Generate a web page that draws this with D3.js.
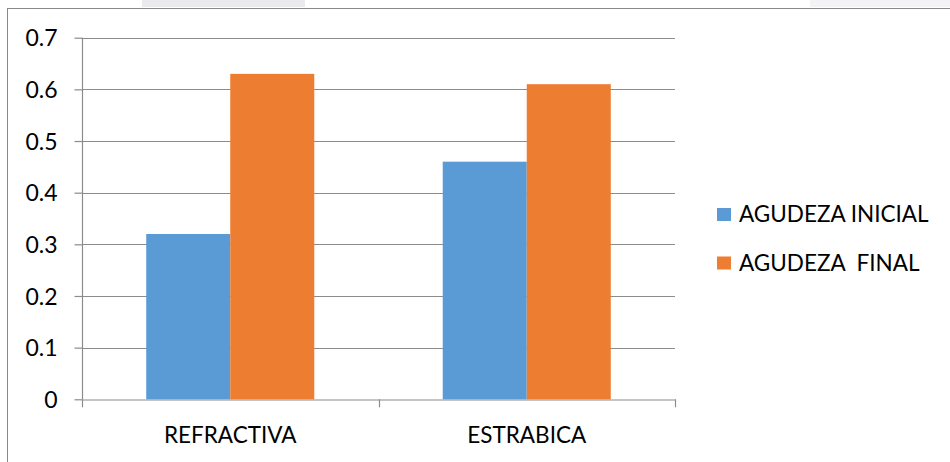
<!DOCTYPE html>
<html>
<head>
<meta charset="utf-8">
<script src="https://cdn.jsdelivr.net/npm/d3@7"></script>
<style>
  html, body { margin: 0; padding: 0; background: #fff; }
  svg { display: block; }
  text { font-family: Lato, "Open Sans", sans-serif; fill: #000; }
</style>
</head>
<body>
<svg id="chart" width="950" height="462"></svg>
<script>
// Visual acuity before and after treatment, by type of amblyopia
const categories = ["REFRACTIVA", "ESTRABICA"];
const seriesNames = ["AGUDEZA INICIAL", "AGUDEZA  FINAL"];
const agudezaInicial = [0.32, 0.46];
const agudezaFinal = [0.63, 0.61];
const yTicks = [0, 0.1, 0.2, 0.3, 0.4, 0.5, 0.6, 0.7];
const colors = ["#5b9bd5", "#ed7d31"];

const svg = d3.select("#chart");

// faint scan haze along the top edge
svg.append("rect").attr("x", 142).attr("y", 0).attr("width", 163).attr("height", 7).attr("fill", "#eaeaee");
svg.append("rect").attr("x", 810).attr("y", 0).attr("width", 140).attr("height", 7).attr("fill", "#f3f3f5");

// chart frame
svg.append("rect")
  .attr("x", 7.5).attr("y", 8.5).attr("width", 960).attr("height", 470)
  .attr("fill", "none").attr("stroke", "#8a8a8a").attr("stroke-width", 1);

const plot = { left: 82, right: 675, top: 37.7, bottom: 399.3 };

const y = d3.scaleLinear().domain([0, 0.7]).range([plot.bottom, plot.top]);
const x0 = d3.scaleBand().domain(categories).range([plot.left, plot.right]);
const x1 = d3.scaleBand().domain(seriesNames).range([0, x0.bandwidth()]).paddingInner(0).paddingOuter(0.7645);

// gridlines
svg.append("g")
  .selectAll("line")
  .data(yTicks.filter(d => d > 0))
  .join("line")
  .attr("x1", plot.left).attr("x2", plot.right)
  .attr("y1", d => Math.round(y(d)) + 0.5).attr("y2", d => Math.round(y(d)) + 0.5)
  .attr("stroke", "#8c8c8c").attr("stroke-width", 1.2);

// bars
const rows = categories.map((c, i) => ({ cat: c, vals: [agudezaInicial[i], agudezaFinal[i]] }));
svg.append("g")
  .selectAll("g")
  .data(rows)
  .join("g")
  .attr("transform", d => `translate(${x0(d.cat)},0)`)
  .selectAll("rect")
  .data(d => d.vals.map((v, j) => ({ key: seriesNames[j], v, j })))
  .join("rect")
  .attr("x", d => x1(d.key))
  .attr("width", x1.bandwidth())
  .attr("y", d => y(d.v))
  .attr("height", d => y(0) - y(d.v))
  .attr("fill", d => colors[d.j]);

// y axis
const yAxis = svg.append("g")
  .attr("transform", `translate(${plot.left + 0.5},0)`)
  .call(d3.axisLeft(y).tickValues(yTicks).tickSize(8).tickPadding(17).tickFormat(d => d === 0 ? "0" : d3.format(".1f")(d)));
yAxis.select(".domain").attr("stroke", "#8c8c8c").attr("stroke-width", 1.2).attr("d", `M0,${plot.top}V${plot.bottom}`);
yAxis.selectAll(".tick line").attr("stroke", "#8c8c8c").attr("stroke-width", 1.2);
yAxis.selectAll(".tick text").attr("font-size", 23).attr("font-family", "Lato, sans-serif").attr("fill", "#000").attr("dy", "0.36em");

// x axis
const xAxis = svg.append("g")
  .attr("transform", `translate(0,${Math.round(plot.bottom) + 0.5})`)
  .call(d3.axisBottom(x0).tickSize(0).tickPadding(28));
xAxis.select(".domain").attr("stroke", "#8c8c8c").attr("stroke-width", 1.2);
xAxis.selectAll(".tick text").attr("font-size", 22.5).attr("font-family", "Lato, sans-serif").attr("fill", "#000");

// category separators
const bounds = [plot.left, plot.left + x0.step(), plot.right];
svg.append("g").selectAll("line").data(bounds).join("line")
  .attr("x1", d => Math.round(d) + 0.5).attr("x2", d => Math.round(d) + 0.5)
  .attr("y1", plot.bottom).attr("y2", plot.bottom + 8)
  .attr("stroke", "#8c8c8c").attr("stroke-width", 1.2);

// legend
const legend = svg.append("g").attr("transform", "translate(717,208)");
const items = legend.selectAll("g").data(seriesNames).join("g")
  .attr("transform", (d, i) => `translate(0,${i * 48.5})`);
items.append("rect").attr("width", 14).attr("height", 13).attr("fill", (d, i) => colors[i]);
items.append("text").attr("x", 22).attr("y", 14)
  .attr("font-size", 22.5).style("white-space", "pre").text(d => d);
</script>
</body>
</html>
